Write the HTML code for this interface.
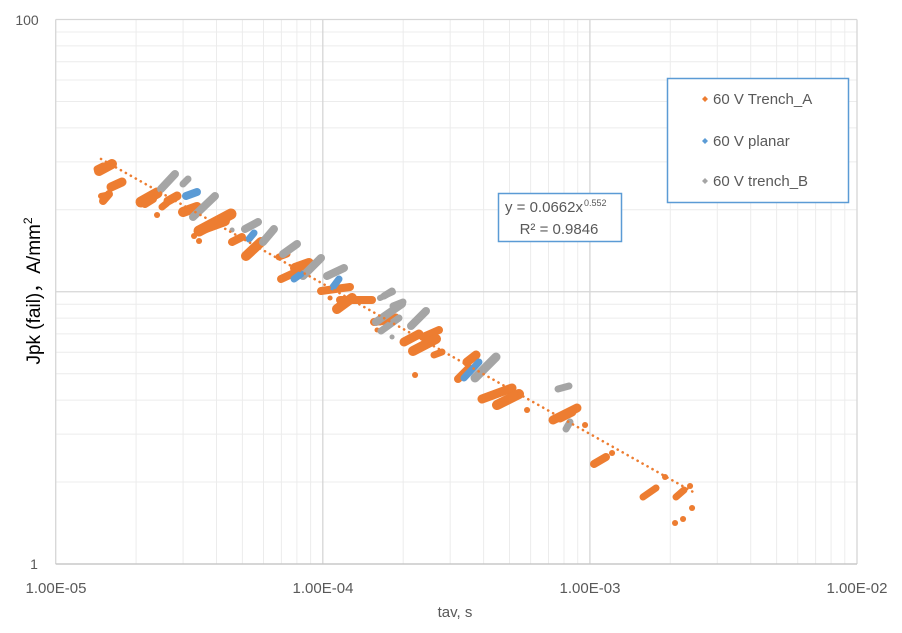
<!DOCTYPE html>
<html>
<head>
<meta charset="utf-8">
<style>
html,body{margin:0;padding:0;background:#fff;}
svg{display:block;}
text{font-family:"Liberation Sans","Noto Sans CJK SC",sans-serif;}
</style>
</head>
<body>
<svg width="902" height="633" viewBox="0 0 902 633" xmlns="http://www.w3.org/2000/svg">
<rect width="902" height="633" fill="#fff"/>
<g stroke="#ececec" stroke-width="1">
<line x1="136.1" y1="19.5" x2="136.1" y2="564"/><line x1="183.1" y1="19.5" x2="183.1" y2="564"/><line x1="216.5" y1="19.5" x2="216.5" y2="564"/><line x1="242.4" y1="19.5" x2="242.4" y2="564"/><line x1="263.5" y1="19.5" x2="263.5" y2="564"/><line x1="281.4" y1="19.5" x2="281.4" y2="564"/><line x1="296.9" y1="19.5" x2="296.9" y2="564"/><line x1="310.6" y1="19.5" x2="310.6" y2="564"/>
<line x1="403.2" y1="19.5" x2="403.2" y2="564"/><line x1="450.2" y1="19.5" x2="450.2" y2="564"/><line x1="483.6" y1="19.5" x2="483.6" y2="564"/><line x1="509.5" y1="19.5" x2="509.5" y2="564"/><line x1="530.6" y1="19.5" x2="530.6" y2="564"/><line x1="548.5" y1="19.5" x2="548.5" y2="564"/><line x1="564" y1="19.5" x2="564" y2="564"/><line x1="577.7" y1="19.5" x2="577.7" y2="564"/>
<line x1="670.3" y1="19.5" x2="670.3" y2="564"/><line x1="717.3" y1="19.5" x2="717.3" y2="564"/><line x1="750.7" y1="19.5" x2="750.7" y2="564"/><line x1="776.6" y1="19.5" x2="776.6" y2="564"/><line x1="797.7" y1="19.5" x2="797.7" y2="564"/><line x1="815.6" y1="19.5" x2="815.6" y2="564"/><line x1="831.1" y1="19.5" x2="831.1" y2="564"/><line x1="844.8" y1="19.5" x2="844.8" y2="564"/>
<line x1="55.7" y1="482" x2="857" y2="482"/><line x1="55.7" y1="434.1" x2="857" y2="434.1"/><line x1="55.7" y1="400.1" x2="857" y2="400.1"/><line x1="55.7" y1="373.7" x2="857" y2="373.7"/><line x1="55.7" y1="352.2" x2="857" y2="352.2"/><line x1="55.7" y1="333.9" x2="857" y2="333.9"/><line x1="55.7" y1="318.1" x2="857" y2="318.1"/><line x1="55.7" y1="304.2" x2="857" y2="304.2"/>
<line x1="55.7" y1="209.8" x2="857" y2="209.8"/><line x1="55.7" y1="161.9" x2="857" y2="161.9"/><line x1="55.7" y1="127.9" x2="857" y2="127.9"/><line x1="55.7" y1="101.5" x2="857" y2="101.5"/><line x1="55.7" y1="80" x2="857" y2="80"/><line x1="55.7" y1="61.7" x2="857" y2="61.7"/><line x1="55.7" y1="45.9" x2="857" y2="45.9"/><line x1="55.7" y1="32" x2="857" y2="32"/>
</g>
<g stroke="#d6d6d6" stroke-width="1.3">
<line x1="322.8" y1="19.5" x2="322.8" y2="564"/>
<line x1="589.9" y1="19.5" x2="589.9" y2="564"/>
<line x1="857" y1="19.5" x2="857" y2="564"/>
<line x1="55.7" y1="291.75" x2="857" y2="291.75"/>
<line x1="55.7" y1="19.5" x2="857" y2="19.5"/>
<line x1="55.7" y1="19.5" x2="55.7" y2="564"/>
</g>
<line x1="55.7" y1="564" x2="857" y2="564" stroke="#c8c8c8" stroke-width="1.6"/>

<g stroke="#ED7D31" stroke-linecap="round" fill="none">
<line x1="99" y1="171" x2="112" y2="164" stroke-width="10"/>
<line x1="97" y1="169" x2="103" y2="166" stroke-width="7"/>
<line x1="111" y1="187" x2="122" y2="182" stroke-width="9"/>
<line x1="103" y1="201" x2="109" y2="194" stroke-width="8"/>
<line x1="101" y1="196" x2="106" y2="195" stroke-width="6"/>
<line x1="141" y1="202" x2="157" y2="193" stroke-width="11"/>
<line x1="145" y1="204" x2="153" y2="199" stroke-width="8"/>
<line x1="162" y1="207" x2="167" y2="203" stroke-width="7"/>
<line x1="168" y1="201" x2="177" y2="196" stroke-width="9"/>
<line x1="157" y1="215" x2="157.1" y2="215" stroke-width="6"/>
<line x1="183" y1="212" x2="197" y2="207" stroke-width="10"/>
<line x1="199" y1="231" x2="231" y2="214" stroke-width="11"/>
<line x1="203" y1="229" x2="225" y2="221" stroke-width="10"/>
<line x1="194" y1="236" x2="194.1" y2="236" stroke-width="6"/>
<line x1="199" y1="241" x2="199.1" y2="241" stroke-width="6"/>
<line x1="232" y1="242" x2="242" y2="237" stroke-width="8"/>
<line x1="246" y1="256" x2="261" y2="242" stroke-width="10"/>
<line x1="279" y1="257" x2="287" y2="254" stroke-width="7"/>
<line x1="281" y1="279" x2="294" y2="273" stroke-width="8"/>
<line x1="295" y1="268" x2="309" y2="263" stroke-width="10"/>
<line x1="321" y1="291" x2="350" y2="287" stroke-width="8"/>
<line x1="340" y1="300" x2="372" y2="300" stroke-width="8"/>
<line x1="337" y1="309" x2="352" y2="298" stroke-width="10"/>
<line x1="330" y1="298" x2="330.1" y2="298" stroke-width="5"/>
<line x1="374" y1="322" x2="390" y2="320" stroke-width="8"/>
<line x1="377" y1="330" x2="377.1" y2="330" stroke-width="5"/>
<line x1="380" y1="322" x2="396" y2="317" stroke-width="7"/>
<line x1="404" y1="342" x2="419" y2="334" stroke-width="9"/>
<line x1="423" y1="337" x2="439" y2="330" stroke-width="8"/>
<line x1="413" y1="351" x2="436" y2="339" stroke-width="10"/>
<line x1="434" y1="355" x2="442" y2="352" stroke-width="7"/>
<line x1="415" y1="375" x2="415.1" y2="375" stroke-width="6"/>
<line x1="467" y1="362" x2="476" y2="355" stroke-width="9"/>
<line x1="458" y1="379" x2="469" y2="368" stroke-width="8"/>
<line x1="482" y1="399" x2="512" y2="388" stroke-width="9"/>
<line x1="497" y1="405" x2="519" y2="394" stroke-width="10"/>
<line x1="500" y1="405" x2="500.1" y2="405" stroke-width="7"/>
<line x1="527" y1="410" x2="527.1" y2="410" stroke-width="6"/>
<line x1="553" y1="420" x2="577" y2="408" stroke-width="9"/>
<line x1="560" y1="418" x2="572" y2="412" stroke-width="9"/>
<line x1="585" y1="425" x2="585.1" y2="425" stroke-width="6"/>
<line x1="594" y1="464" x2="606" y2="457" stroke-width="8"/>
<line x1="612" y1="453" x2="612.1" y2="453" stroke-width="6"/>
<line x1="643" y1="497" x2="656" y2="488" stroke-width="7"/>
<line x1="665" y1="477" x2="665.1" y2="477" stroke-width="6"/>
<line x1="676" y1="497" x2="684" y2="490" stroke-width="7"/>
<line x1="690" y1="486" x2="690.1" y2="486" stroke-width="6"/>
<line x1="692" y1="508" x2="692.1" y2="508" stroke-width="6"/>
<line x1="675" y1="523" x2="675.1" y2="523" stroke-width="6"/>
<line x1="683" y1="519" x2="683.1" y2="519" stroke-width="6"/>
</g>

<g stroke="#A5A5A5" stroke-linecap="round" fill="none">
<line x1="161" y1="189" x2="175" y2="174" stroke-width="8"/>
<line x1="183" y1="184" x2="188" y2="179" stroke-width="7"/>
<line x1="193" y1="217" x2="215" y2="196" stroke-width="8"/>
<line x1="232" y1="230" x2="232.1" y2="230" stroke-width="5"/>
<line x1="245" y1="229" x2="258" y2="222" stroke-width="8"/>
<line x1="263" y1="242" x2="274" y2="229" stroke-width="8"/>
<line x1="283" y1="254" x2="297" y2="244" stroke-width="8"/>
<line x1="303" y1="276" x2="321" y2="258" stroke-width="8"/>
<line x1="327" y1="276" x2="344" y2="268" stroke-width="8"/>
<line x1="384" y1="296" x2="392" y2="291" stroke-width="7"/>
<line x1="380" y1="298" x2="393" y2="292" stroke-width="6"/>
<line x1="393" y1="306" x2="403" y2="302" stroke-width="7"/>
<line x1="376" y1="322" x2="402" y2="304" stroke-width="8"/>
<line x1="381" y1="331" x2="399" y2="318" stroke-width="7"/>
<line x1="411" y1="326" x2="426" y2="311" stroke-width="8"/>
<line x1="392" y1="337" x2="392.1" y2="337" stroke-width="5"/>
<line x1="475" y1="378" x2="496" y2="357" stroke-width="9"/>
<line x1="558" y1="389" x2="569" y2="386" stroke-width="7"/>
<line x1="566" y1="429" x2="570" y2="422" stroke-width="7"/>
</g>

<g stroke="#5B9BD5" stroke-linecap="round" fill="none">
<line x1="186" y1="196" x2="197" y2="192" stroke-width="8"/>
<line x1="249" y1="239" x2="254" y2="233" stroke-width="7"/>
<line x1="294" y1="279" x2="301" y2="274" stroke-width="7"/>
<line x1="333" y1="287" x2="339" y2="279" stroke-width="7"/>
<line x1="464" y1="378" x2="479" y2="362" stroke-width="7"/>
</g>

<line x1="101" y1="159" x2="694" y2="492.5" stroke="#ED7D31" stroke-width="2.6" stroke-linecap="round" stroke-dasharray="0.1 5.6"/>

<g fill="#595959" font-size="14">
<text x="27" y="25" text-anchor="middle">100</text>
<text x="34" y="569" text-anchor="middle">1</text>
</g>
<g fill="#595959" font-size="15" text-anchor="middle">
<text x="56" y="593">1.00E-05</text>
<text x="323" y="593">1.00E-04</text>
<text x="590" y="593">1.00E-03</text>
<text x="857" y="593">1.00E-02</text>
<text x="455" y="617">tav, s</text>
</g>
<text transform="translate(40,291) rotate(-90)" text-anchor="middle" font-size="19" fill="#000">Jpk (fail)<tspan font-family="'Noto Sans CJK SC',sans-serif">，</tspan>A/mm<tspan font-size="12" dy="-8">2</tspan></text>

<rect x="667.5" y="78.5" width="181" height="124" fill="#fff" stroke="#5B9BD5" stroke-width="1.5"/>
<g font-size="15" fill="#595959">
<text x="713" y="104">60 V Trench_A</text>
<text x="713" y="146">60 V planar</text>
<text x="713" y="186">60 V trench_B</text>
</g>
<path d="M705 96 l3 3 l-3 3 l-3 -3z" fill="#ED7D31"/>
<path d="M705 138 l3 3 l-3 3 l-3 -3z" fill="#5B9BD5"/>
<path d="M705 178 l3 3 l-3 3 l-3 -3z" fill="#A5A5A5"/>

<rect x="498.5" y="193.5" width="123" height="48" fill="#fff" stroke="#5B9BD5" stroke-width="1.5"/>
<g fill="#595959">
<text x="505" y="212" font-size="15">y = 0.0662x<tspan font-size="9" dy="-6" dx="1">0.552</tspan></text>
<text x="559" y="234" font-size="15" text-anchor="middle">R² = 0.9846</text>
</g>
</svg>
</body>
</html>
